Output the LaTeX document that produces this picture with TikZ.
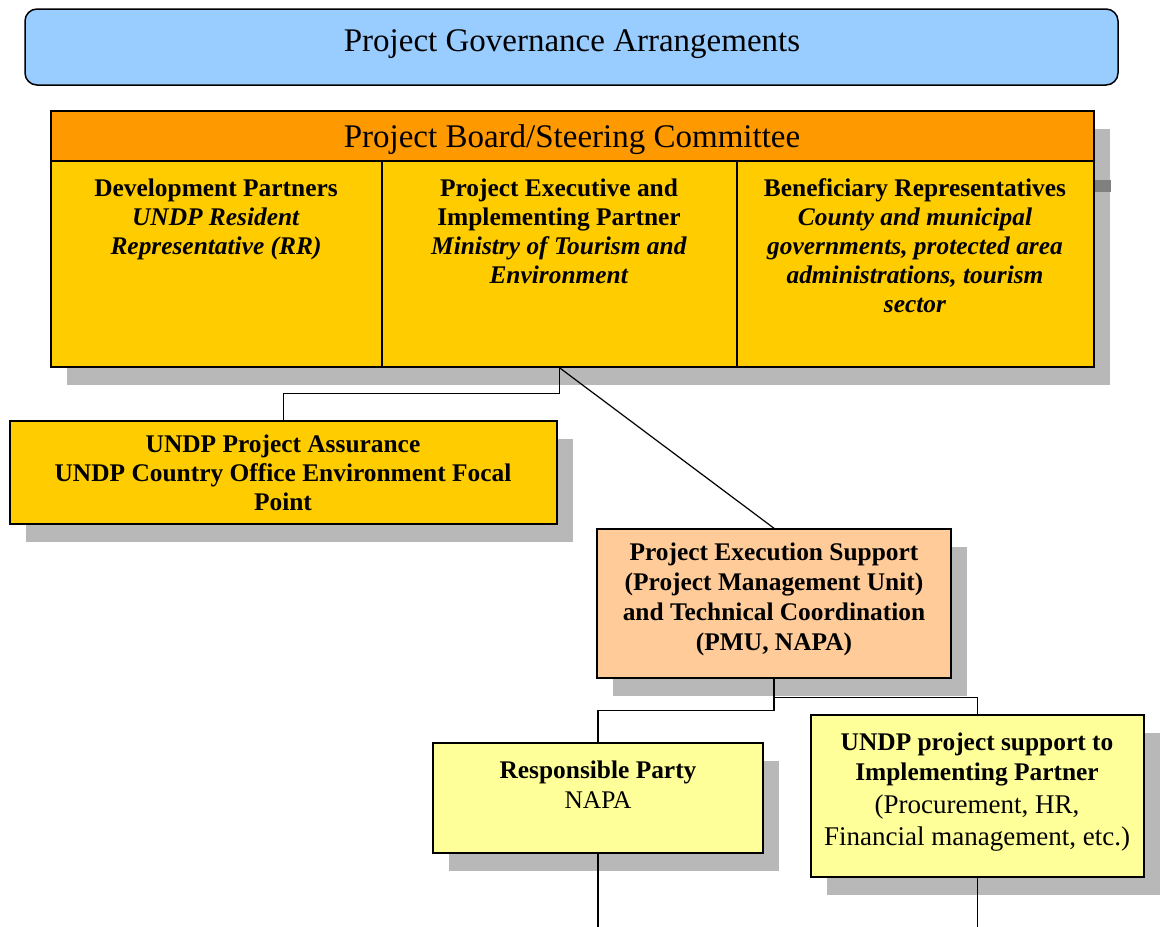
\documentclass[tikz,border=0pt]{standalone}
\usepackage{fontspec}
\setmainfont{Liberation Serif}
\usetikzlibrary{fit,shadows}

\definecolor{titleblue}{HTML}{99CCFF}
\definecolor{boardorange}{HTML}{FF9900}
\definecolor{boardyellow}{HTML}{FFCC00}
\definecolor{execpeach}{HTML}{FFCC99}
\definecolor{paleyellow}{HTML}{FFFF99}

\newcommand\bodyfont{\fontsize{12.7}{14.5}\selectfont}
\newcommand\headfont{\fontsize{16.5}{19}\selectfont}
\newcommand\notefont{\fontsize{13.5}{16}\selectfont}

\begin{document}
\begin{tikzpicture}[x=0.5pt,y=-0.5pt,
  box/.style={draw, line width=0.75pt, inner sep=0pt},
  shadowed/.style={drop shadow={shadow xshift=8pt,shadow yshift=-9pt,fill=black!28,opacity=1}},
  txt/.style={anchor=north, inner sep=0pt, align=center, font=\bodyfont},
  link/.style={line width=0.6pt}]
\useasboundingbox (0,0) rectangle (1160,926);

% title bar
\node[box, fill=titleblue, rounded corners=6pt, fit={(25,9) (1118,85)}] (title) {};
\node[font=\headfont, inner sep=0pt] (titletext) at (572,44) {Project Governance Arrangements};

% board with its three columns
\node[box, fill=boardyellow, shadowed, fit={(51,111) (1094,367)}] (board) {};
\fill[black!50] (1095,180) rectangle (1111,192);
\node[box, fill=boardorange, fit={(51,111) (1094,161)}] (head) {};
\node[font=\headfont, inner sep=0pt] (headtext) at (572,140) {Project Board/Steering Committee};
\node[box, fill=boardyellow, fit={(51,161) (382,367)}] (col1) {};
\node[box, fill=boardyellow, fit={(382,161) (737,367)}] (col2) {};
\node[box, fill=boardyellow, fit={(737,161) (1094,367)}] (col3) {};

\node[txt] (partners) at (216,178) {\textbf{Development Partners}\\
  \textbf{\textit{UNDP Resident}}\\ \textbf{\textit{Representative (RR)}}};
\node[txt] (executive) at (559,178) {\textbf{Project Executive and}\\
  \textbf{Implementing Partner}\\ \textbf{\textit{Ministry of Tourism and}}\\
  \textbf{\textit{Environment}}};
\node[txt] (beneficiary) at (915,178) {\textbf{Beneficiary Representatives}\\
  \textbf{\textit{County and municipal}}\\ \textbf{\textit{governments, protected area}}\\
  \textbf{\textit{administrations, tourism}}\\ \textbf{\textit{sector}}};

% assurance and execution
\node[box, fill=boardyellow, shadowed, fit={(10,421) (557,524)}] (assure) {};
\node[txt, font=\bodyfont\bfseries] (assuretext) at (283,434)
  {UNDP Project Assurance\\ UNDP Country Office Environment Focal\\ Point};
\node[box, fill=execpeach, shadowed, fit={(597,529) (951,678)}] (exec) {};
\node[txt, font=\fontsize{12.7}{15}\selectfont\bfseries] (exectext) at (774,542)
  {Project Execution Support\\ (Project Management Unit)\\ and Technical Coordination\\ (PMU, NAPA)};

% lower level
\node[box, fill=paleyellow, shadowed, fit={(433,743) (763,853)}] (resp) {};
\node[txt] (resptext) at (598,760) {\textbf{Responsible Party}\\[0.5pt] NAPA};
\node[box, fill=paleyellow, shadowed, fit={(811,715) (1144,877)}] (supp) {};
\node[txt] (supptext) at (977,732) {\textbf{UNDP project support to}\\[0.5pt]
  \textbf{Implementing Partner}\\[2pt]
  {\notefont (Procurement, HR,}\\[1.5pt] {\notefont Financial management, etc.)}};

% connectors
\draw[link] (col2.south) -- ++(0,26) -| (assure.north);
\draw[link] (col2.south) -- (exec.north);
\draw[link] (exec.south) -- ++(0,32) -| (resp.north);
\draw[link] (exec.south) -- ++(0,19) -| (supp.north);
\draw[link] (resp.south) -- ++(0,73);
\draw[link] (supp.south) -- ++(0,49);
\end{tikzpicture}
\end{document}
